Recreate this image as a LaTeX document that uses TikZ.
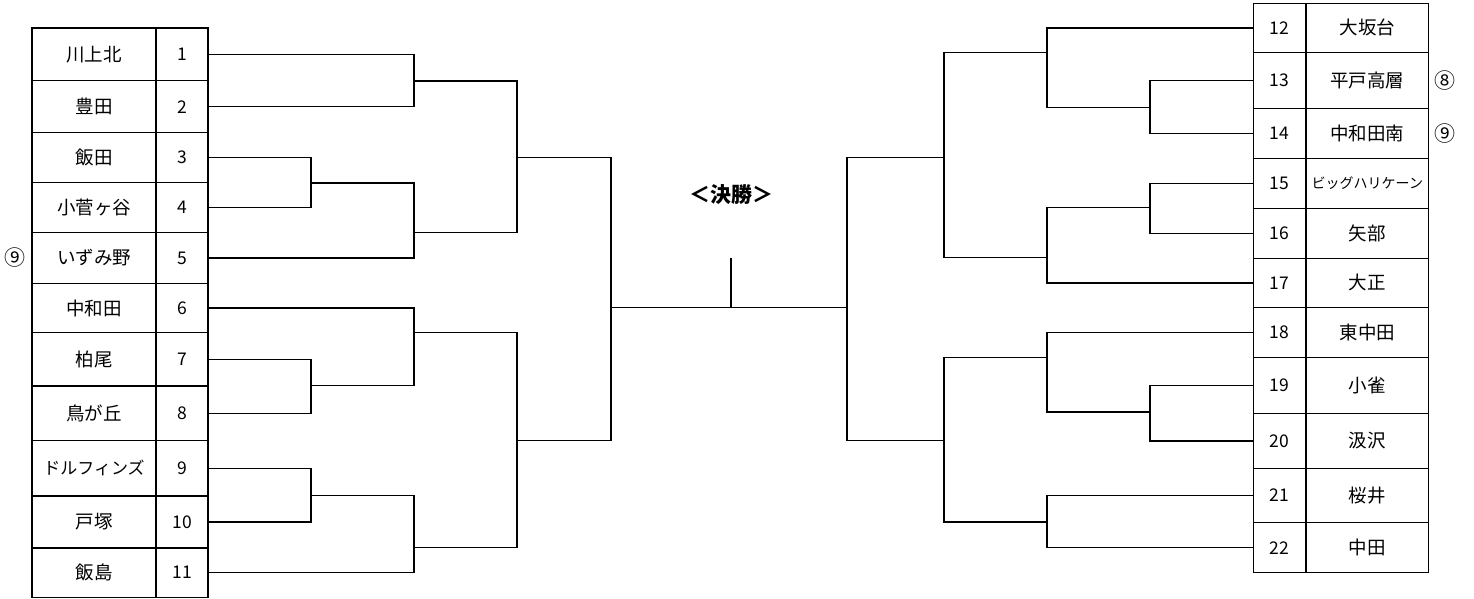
\documentclass[tikz,border=0pt]{standalone}
\usepackage{fontspec}
\setmainfont{Noto Sans CJK JP}
\begin{document}
\begin{tikzpicture}[x=1pt,y=-1pt,
  cell/.style={draw, line width=1.5pt, inner sep=0pt, outer sep=0pt, anchor=center},
  namecell/.style={cell, font=\fontsize{18.5}{20}\selectfont},
  numcell/.style={cell, font=\fontsize{17.5}{19}\selectfont},
  mark9/.style={font=\fontsize{21}{23}\selectfont, inner sep=0pt},
  wire/.style={line width=1.5pt}]
\useasboundingbox (0,0) rectangle (1474,599);
% ---------- left table ----------
\node[namecell, minimum width=124pt, minimum height=52.7pt] (t1)  at (94,54.35) {川上北};
\node[numcell,  minimum width=52pt,  minimum height=52.7pt] (n1)  at (182,54.35) {1};
\node[namecell, minimum width=124pt, minimum height=52pt]   (t2)  at (94,106.7) {豊田};
\node[numcell,  minimum width=52pt,  minimum height=52pt]   (n2)  at (182,106.7) {2};
\node[namecell, minimum width=124pt, minimum height=50pt]   (t3)  at (94,157.7) {飯田};
\node[numcell,  minimum width=52pt,  minimum height=50pt]   (n3)  at (182,157.7) {3};
\node[namecell, minimum width=124pt, minimum height=50pt]   (t4)  at (94,207.7) {小菅ヶ谷};
\node[numcell,  minimum width=52pt,  minimum height=50pt]   (n4)  at (182,207.7) {4};
\node[namecell, minimum width=124pt, minimum height=50.6pt] (t5)  at (94,258) {いずみ野};
\node[numcell,  minimum width=52pt,  minimum height=50.6pt] (n5)  at (182,258) {5};
\node[namecell, minimum width=124pt, minimum height=49.4pt] (t6)  at (94,308) {中和田};
\node[numcell,  minimum width=52pt,  minimum height=49.4pt] (n6)  at (182,308) {6};
\node[namecell, minimum width=124pt, minimum height=53.3pt] (t7)  at (94,359.35) {柏尾};
\node[numcell,  minimum width=52pt,  minimum height=53.3pt] (n7)  at (182,359.35) {7};
\node[namecell, minimum width=124pt, minimum height=54.7pt] (t8)  at (94,413.35) {鳥が丘};
\node[numcell,  minimum width=52pt,  minimum height=54.7pt] (n8)  at (182,413.35) {8};
\node[namecell, minimum width=124pt, minimum height=55.3pt, font=\fontsize{17}{19}\selectfont] (t9)  at (94,468.35) {ドルフィンズ};
\node[numcell,  minimum width=52pt,  minimum height=55.3pt] (n9)  at (182,468.35) {9};
\node[namecell, minimum width=124pt, minimum height=52pt]   (t10) at (94,522) {戸塚};
\node[numcell,  minimum width=52pt,  minimum height=52pt]   (n10) at (182,522) {10};
\node[namecell, minimum width=124pt, minimum height=49.3pt] (t11) at (94,572.65) {飯島};
\node[numcell,  minimum width=52pt,  minimum height=49.3pt] (n11) at (182,572.65) {11};
\node[mark9] (c5) at (15,258) {⑨};
% ---------- right table ----------
\node[numcell,  minimum width=52.7pt,  minimum height=49pt]   (n12) at (1279.65,27.8) {12};
\node[namecell, minimum width=122.7pt, minimum height=49pt]   (t12) at (1367.35,27.8) {大坂台};
\node[numcell,  minimum width=52.7pt,  minimum height=56pt]   (n13) at (1279.65,80.3) {13};
\node[namecell, minimum width=122.7pt, minimum height=56pt]   (t13) at (1367.35,80.3) {平戸高層};
\node[numcell,  minimum width=52.7pt,  minimum height=50pt]   (n14) at (1279.65,133.3) {14};
\node[namecell, minimum width=122.7pt, minimum height=50pt]   (t14) at (1367.35,133.3) {中和田南};
\node[numcell,  minimum width=52.7pt,  minimum height=50pt]   (n15) at (1279.65,183.3) {15};
\node[namecell, minimum width=122.7pt, minimum height=50pt, font=\fontsize{14}{16}\selectfont] (t15) at (1367.35,183.3) {ビッグハリケーン};
\node[numcell,  minimum width=52.7pt,  minimum height=50pt]   (n16) at (1279.65,233.3) {16};
\node[namecell, minimum width=122.7pt, minimum height=50pt]   (t16) at (1367.35,233.3) {矢部};
\node[numcell,  minimum width=52.7pt,  minimum height=49pt]   (n17) at (1279.65,282.8) {17};
\node[namecell, minimum width=122.7pt, minimum height=49pt]   (t17) at (1367.35,282.8) {大正};
\node[numcell,  minimum width=52.7pt,  minimum height=50.4pt] (n18) at (1279.65,332.5) {18};
\node[namecell, minimum width=122.7pt, minimum height=50.4pt] (t18) at (1367.35,332.5) {東中田};
\node[numcell,  minimum width=52.7pt,  minimum height=55.6pt] (n19) at (1279.65,385.5) {19};
\node[namecell, minimum width=122.7pt, minimum height=55.6pt] (t19) at (1367.35,385.5) {小雀};
\node[numcell,  minimum width=52.7pt,  minimum height=55pt]   (n20) at (1279.65,440.8) {20};
\node[namecell, minimum width=122.7pt, minimum height=55pt]   (t20) at (1367.35,440.8) {汲沢};
\node[numcell,  minimum width=52.7pt,  minimum height=54.4pt] (n21) at (1279.65,495.5) {21};
\node[namecell, minimum width=122.7pt, minimum height=54.4pt] (t21) at (1367.35,495.5) {桜井};
\node[numcell,  minimum width=52.7pt,  minimum height=50pt]   (n22) at (1279.65,547.7) {22};
\node[namecell, minimum width=122.7pt, minimum height=50pt]   (t22) at (1367.35,547.7) {中田};
\node[mark9] (c13) at (1445,80.3) {⑧};
\node[mark9] (c14) at (1445,133.3) {⑨};
% ---------- title ----------
\node[font=\fontsize{21}{23}\selectfont\bfseries, inner sep=0pt] (title) at (731,195) {＜決勝＞};
% ---------- left bracket junctions ----------
\coordinate (A12)   at (414,80.9);
\coordinate (A34)   at (311,182.8);
\coordinate (A345)  at (414,232.4);
\coordinate (A15)   at (517,157.6);
\coordinate (A78)   at (311,385.5);
\coordinate (A678)  at (414,332.4);
\coordinate (A910)  at (311,495.4);
\coordinate (A911)  at (414,547.3);
\coordinate (A611)  at (517,440.5);
\coordinate (AL)    at (611,307.6);
% ---------- right bracket junctions ----------
\coordinate (B1314) at (1150,107.6);
\coordinate (B1214) at (1047,52.7);
\coordinate (B1516) at (1150,207.6);
\coordinate (B1517) at (1047,257.6);
\coordinate (B1217) at (944,157.6);
\coordinate (B1920) at (1150,412.2);
\coordinate (B1820) at (1047,357.6);
\coordinate (B2122) at (1047,522.1);
\coordinate (B1822) at (944,440.5);
\coordinate (AR)    at (847,307.6);
\coordinate (TK)    at (731,258.3);
% ---------- left bracket ----------
\draw[wire] (n1.east) -| (A12) |- (n2.east);
\draw[wire] (n3.east) -| (A34) |- (n4.east);
\draw[wire] (A34) -| (A345) |- (n5.east);
\draw[wire] (A12) -| (A15) |- (A345);
\draw[wire] (n7.east) -| (A78) |- (n8.east);
\draw[wire] (n6.east) -| (A678) |- (A78);
\draw[wire] (n9.east) -| (A910) |- (n10.east);
\draw[wire] (A910) -| (A911) |- (n11.east);
\draw[wire] (A678) -| (A611) |- (A911);
\draw[wire] (A15) -| (AL) |- (A611);
% ---------- right bracket ----------
\draw[wire] (n13.west) -| (B1314) |- (n14.west);
\draw[wire] (n12.west) -| (B1214) |- (B1314);
\draw[wire] (n15.west) -| (B1516) |- (n16.west);
\draw[wire] (B1516) -| (B1517) |- (n17.west);
\draw[wire] (B1214) -| (B1217) |- (B1517);
\draw[wire] (n19.west) -| (B1920) |- (n20.west);
\draw[wire] (n18.west) -| (B1820) |- (B1920);
\draw[wire] (n21.west) -| (B2122) |- (n22.west);
\draw[wire] (B1820) -| (B1822) |- (B2122);
\draw[wire] (B1217) -| (AR) |- (B1822);
% ---------- final ----------
\draw[wire] (AL) -- (AR);
\draw[wire] (TK) -- (TK |- AL);
\end{tikzpicture}
\end{document}
